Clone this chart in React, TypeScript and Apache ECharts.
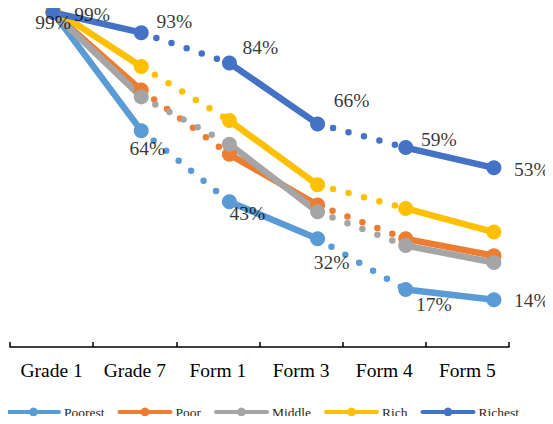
import React, { useEffect, useRef } from "react";
import * as echarts from "echarts";

// School stages on the horizontal axis
const categories = ["Grade 1", "Grade 7", "Form 1", "Form 3", "Form 4", "Form 5"];

// Share of each wealth group still enrolled at each stage (%)
const poorest = [99, 64, 43, 32, 17, 14];
const poor = [99, 76, 57, 42, 32, 27];
const middle = [99, 74, 60, 40, 30, 25];
const rich = [100, 83, 67, 48, 41, 34];
const richest = [99, 93, 84, 66, 59, 53];

const groupNames = ["Poorest", "Poor", "Middle", "Rich", "Richest"];
const groupValues = [poorest, poor, middle, rich, richest];
const groupColors = ["#5B9BD5", "#ED7D31", "#A5A5A5", "#FFC000", "#4472C4"];

// Solid runs within a school level, dotted runs across transitions
const solidRuns: [number, number][] = [[0, 1], [2, 3], [4, 5]];
const dottedRuns: [number, number][] = [[1, 2], [3, 4]];

// Label placement (offset from the marker centre) for the two labelled groups
const poorestLabelOffsets = [[0, 10], [6, 18], [18, 12], [14, 24], [28, 15], [38, 1]];
const richestLabelOffsets = [[39, 2], [33, -11], [31, -16], [34, -23], [33, -8], [38, 2]];

const FONT = "Liberation Serif";

function mask(values: number[], a: number, b: number) {
  return values.map((v, i) => (i >= a && i <= b ? v : null));
}

function buildSeries() {
  const series: any[] = [];
  groupNames.forEach((name, gi) => {
    const values = groupValues[gi];
    const color = groupColors[gi];
    const runs: { run: [number, number]; dotted: boolean }[] = [
      { run: solidRuns[0], dotted: false },
      { run: dottedRuns[0], dotted: true },
      { run: solidRuns[1], dotted: false },
      { run: dottedRuns[1], dotted: true },
      { run: solidRuns[2], dotted: false },
    ];
    runs.forEach(({ run, dotted }) => {
      series.push({
        name,
        type: "line",
        xAxisIndex: 1,
        yAxisIndex: 1,
        data: mask(values, run[0], run[1]),
        connectNulls: false,
        symbol: dotted ? "none" : "circle",
        symbolSize: 15,
        showSymbol: !dotted,
        color,
        itemStyle: { color },
        lineStyle: dotted
          ? { color, width: 6.5, type: [0, 16], cap: "round" }
          : { color, width: 6.5, type: "solid", cap: "round" },
        emphasis: { disabled: true },
        silent: true,
        z: 2,
      });
    });
  });

  const labelSeries = (values: number[], offsets: number[][], id: string) => ({
    name: id,
    type: "scatter",
    xAxisIndex: 1,
    yAxisIndex: 1,
    symbol: "circle",
    symbolSize: 1,
    itemStyle: { color: "rgba(0,0,0,0)" },
    silent: true,
    z: 5,
    label: {
      show: true,
      position: "inside",
      formatter: (p: any) => `${p.value}%`,
      fontFamily: FONT,
      fontSize: 19.5,
      color: "#000",
    },
    data: values.map((v, i) => ({
      value: v,
      label: { offset: offsets[i] },
    })),
  });
  series.push(labelSeries(poorest, poorestLabelOffsets, "poorest-labels"));
  series.push(labelSeries(richest, richestLabelOffsets, "richest-labels"));
  return series;
}

export default function App() {
  const ref = useRef<HTMLDivElement>(null);

  useEffect(() => {
    if (!ref.current) return;
    const chart = echarts.init(ref.current, undefined, { renderer: "svg" });
    chart.setOption({
      animation: false,
      backgroundColor: "#ffffff",
      textStyle: { fontFamily: FONT },
      legend: {
        data: groupNames,
        left: 6,
        top: 405,
        padding: 0,
        itemWidth: 51,
        itemHeight: 11,
        itemGap: 13,
        lineStyle: { width: 4 },
        textStyle: { fontFamily: FONT, fontSize: 13.5, color: "#262626" },
        selectedMode: false,
      },
      grid: [
        { left: 10, width: 499, top: 9, bottom: 77 },
        { left: 9, width: 529, top: 9, bottom: 77 },
      ],
      xAxis: [
        {
          type: "category",
          gridIndex: 0,
          data: categories,
          boundaryGap: true,
          axisLine: { show: true, lineStyle: { color: "#000", width: 1.5 } },
          axisTick: { show: true, inside: true, length: 5, lineStyle: { color: "#000", width: 1.5 } },
          axisLabel: { fontFamily: FONT, fontSize: 19.5, color: "#000", margin: 13 },
          splitLine: { show: false },
        },
        {
          type: "category",
          gridIndex: 1,
          data: categories,
          boundaryGap: true,
          show: false,
        },
      ],
      yAxis: [
        { type: "value", gridIndex: 0, min: 0, max: 100, show: false },
        { type: "value", gridIndex: 1, min: 0, max: 100, show: false },
      ],
      series: buildSeries(),
    });
    return () => chart.dispose();
  }, []);

  return <div ref={ref} style={{ width: 553, height: 424, margin: -8 }} />;
}
